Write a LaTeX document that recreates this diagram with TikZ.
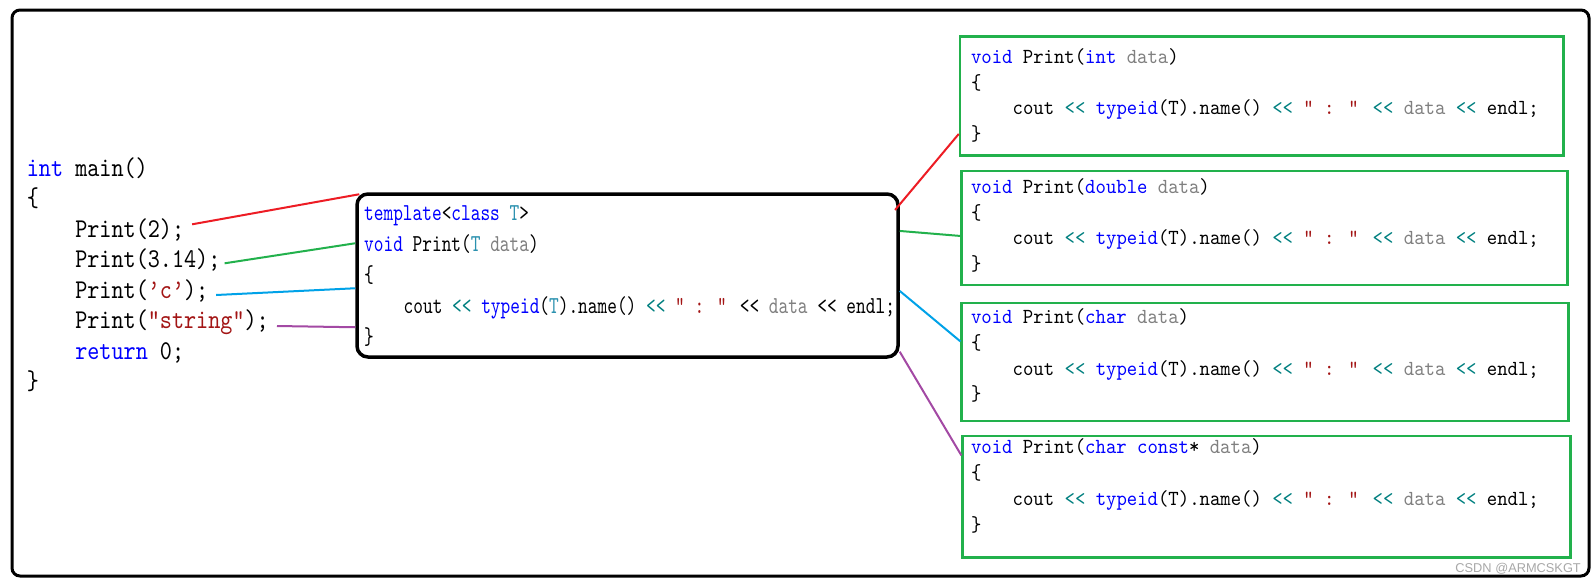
\documentclass[tikz,border=0pt]{standalone}
\usepackage{fontspec}
\usetikzlibrary{calc}
\newfontfamily\codefont{lmmono10-regular.otf}[FakeStretch=0.85]
\newfontfamily\codefontc{lmmono10-regular.otf}[FakeStretch=0.76]
\newfontfamily\codefontg{lmmono10-regular.otf}[FakeStretch=0.92]
\newfontfamily\wmfont{Liberation Sans}
\definecolor{ckwc}{HTML}{0000FF}
\definecolor{ctyc}{HTML}{2B91AF}
\definecolor{copc}{HTML}{008080}
\definecolor{cdtc}{HTML}{808080}
\definecolor{cstc}{HTML}{A31515}
\definecolor{pred}{HTML}{ED1C24}
\definecolor{pgreen}{HTML}{22B14C}
\definecolor{pblue}{HTML}{00A2E8}
\definecolor{ppurple}{HTML}{A349A4}
\definecolor{wmgray}{HTML}{A8A8A8}
\newcommand\ckw[1]{\textcolor{ckwc}{#1}}
\newcommand\cty[1]{\textcolor{ctyc}{#1}}
\newcommand\cop[1]{\textcolor{copc}{#1}}
\newcommand\cdt[1]{\textcolor{cdtc}{#1}}
\newcommand\cst[1]{\textcolor{cstc}{#1}}
\tikzset{
  mainc/.style={anchor=base west, inner sep=0pt, font=\codefont\fontsize{27.1}{30}\selectfont},
  ctrc/.style={anchor=base west, inner sep=0pt, font=\codefontc\fontsize{24.3}{30}\selectfont},
  grnc/.style={anchor=base west, inner sep=0pt, font=\codefontg\fontsize{21.5}{26}\selectfont},
  outerframe/.style={draw=black, line width=3pt, rounded corners=8pt},
  tplbox/.style={draw=black, line width=3.5pt, rounded corners=11pt, inner sep=0pt, minimum width=541pt, minimum height=163pt},
  grnbox/.style={draw=pgreen, line width=2.5pt, inner sep=0pt},
  link/.style={line width=2pt}
}
\begin{document}
\begin{tikzpicture}[x=1pt,y=-1pt]
\useasboundingbox (0,0) rectangle (1594,584);
\fill[white] (0,0) rectangle (1594,584);
\draw[outerframe] (12,10) rectangle (1589,576);

% main()
\node[mainc] (m1) at (26.7,176) {\ckw{int} main()};
\node[mainc] (m2) at (26.7,206.5) {\{};
\node[mainc] (m3) at (75.1,237) {Print(2);};
\node[mainc] (m4) at (75.1,267.5) {Print(3.14);};
\node[mainc] (m5) at (75.1,298) {Print(\cst{’c’});};
\node[mainc] (m6) at (75.1,328.5) {Print(\cst{”string”});};
\node[mainc] (m7) at (75.1,359) {\ckw{return} 0;};
\node[mainc] (m8) at (26.7,389.5) {\}};

% template box
\node[tplbox] (tpl) at (627.5,275.5) {};
\node[ctrc] (c1) at (364,220.5) {\ckw{template}<\ckw{class} \cty{T}>};
\node[ctrc] (c2) at (364,251.5) {\ckw{void} Print(\cty{T} \cdt{data})};
\node[ctrc] (c3) at (364,282.5) {\{};
\node[ctrc] (c4) at (403.5,313.5) {cout \cop{<<} \ckw{typeid}(\cty{T}).name() \cop{<<} \cst{” : ”} << \cdt{data} << endl;};
\node[ctrc] (c5) at (364,344.5) {\}};

% green boxes
\node[grnbox, minimum width=603.6pt, minimum height=119pt] (b1) at (1261.8,96) {};
\node[grnbox, minimum width=606pt, minimum height=113.8pt] (b2) at (1264.6,228.1) {};
\node[grnbox, minimum width=607pt, minimum height=117.8pt] (b3) at (1265.2,361.9) {};
\node[grnbox, minimum width=608pt, minimum height=121.5pt] (b4) at (1266.6,496.7) {};

\node[grnc] (g1a) at (970.8,63.3) {\ckw{void} Print(\ckw{int} \cdt{data})};
\node[grnc] (g1b) at (970.8,89.1) {\{};
\node[grnc] (g1c) at (1012.5,114.9) {cout \cop{<<} \ckw{typeid}(T).name() \cop{<<} \cst{” : ”} \cop{<<} \cdt{data} \cop{<<} endl;};
\node[grnc] (g1d) at (970.8,140.7) {\}};

\node[grnc] (g2a) at (970.8,193.3) {\ckw{void} Print(\ckw{double} \cdt{data})};
\node[grnc] (g2b) at (970.8,219.1) {\{};
\node[grnc] (g2c) at (1012.5,244.9) {cout \cop{<<} \ckw{typeid}(T).name() \cop{<<} \cst{” : ”} \cop{<<} \cdt{data} \cop{<<} endl;};
\node[grnc] (g2d) at (970.8,270.7) {\}};

\node[grnc] (g3a) at (970.8,323.5) {\ckw{void} Print(\ckw{char} \cdt{data})};
\node[grnc] (g3b) at (970.8,349.3) {\{};
\node[grnc] (g3c) at (1012.5,375.1) {cout \cop{<<} \ckw{typeid}(T).name() \cop{<<} \cst{” : ”} \cop{<<} \cdt{data} \cop{<<} endl;};
\node[grnc] (g3d) at (970.8,400.9) {\}};

\node[grnc] (g4a) at (970.8,453.6) {\ckw{void} Print(\ckw{char} \ckw{const}* \cdt{data})};
\node[grnc] (g4b) at (970.8,479.4) {\{};
\node[grnc] (g4c) at (1012.5,505.2) {cout \cop{<<} \ckw{typeid}(T).name() \cop{<<} \cst{” : ”} \cop{<<} \cdt{data} \cop{<<} endl;};
\node[grnc] (g4d) at (970.8,531) {\}};

% connectors: calls -> template
\draw[link, pred] ([xshift=7.8pt,yshift=12.7pt]m3.base east) -- ([xshift=4pt,yshift=-2pt]tpl.north west);
\draw[link, pgreen] ([xshift=4pt,yshift=4.2pt]m4.base east) -- ([yshift=-51pt]tpl.north west);
\draw[link, pblue] ([xshift=7.6pt,yshift=3pt]m5.base east) -- ([yshift=-96pt]tpl.north west);
\draw[link, ppurple] ([xshift=8pt,yshift=2.5pt]m6.base east) -- ([yshift=-135pt]tpl.north west);

% connectors: template -> instances
\draw[link, pred] ([xshift=-4.7pt,yshift=-17.7pt]tpl.north east) -- ([yshift=22.8pt]b1.south west);
\draw[link, pgreen] ([yshift=-38.7pt]tpl.north east) -- ([yshift=-66pt]b2.north west);
\draw[link, pblue] ([yshift=-98.7pt]tpl.north east) -- ([yshift=-39.7pt]b3.north west);
\draw[link, ppurple] ([yshift=7pt]tpl.south east) -- ([yshift=-20.7pt]b4.north west);

% watermark
\node[anchor=base east, inner sep=0pt, font=\wmfont\fontsize{12.8}{14}\selectfont, text=wmgray] (wm) at (1581,572.5) {CSDN @ARMCSKGT};
\end{tikzpicture}
\end{document}
